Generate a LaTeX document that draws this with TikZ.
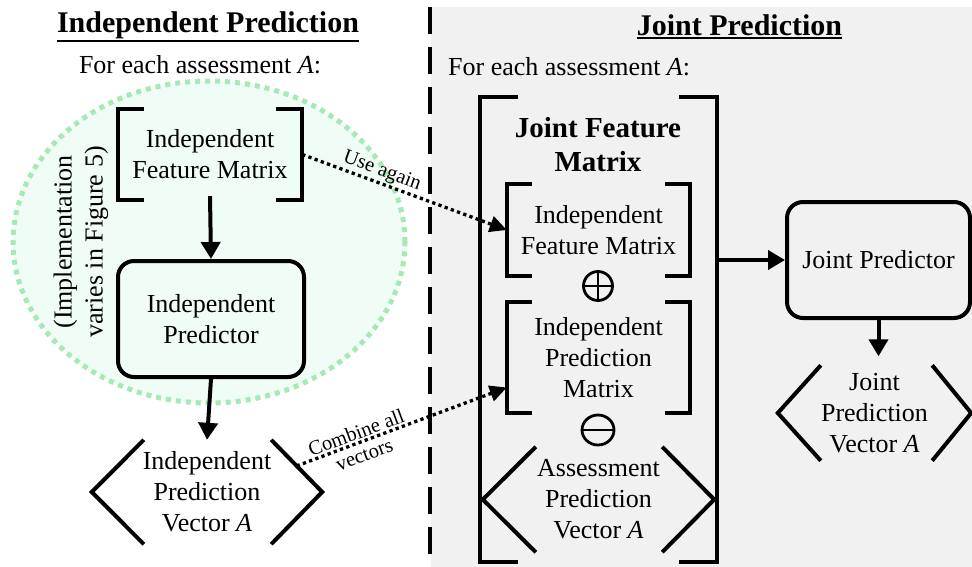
\documentclass[tikz,border=0pt]{standalone}
\usepackage{fontspec}
\setmainfont{Liberation Serif}
\usetikzlibrary{arrows.meta,calc,shapes.geometric}
\definecolor{bggray}{HTML}{F1F1F1}
\definecolor{lightgreen}{HTML}{F0FDF6}
\definecolor{dotgreen}{HTML}{A6E9B4}
\newcommand\bodyfs{\fontsize{26pt}{31pt}\selectfont}
\newcommand\titlefs{\fontsize{30pt}{34pt}\selectfont\bfseries}
\newcommand\jfmfs{\fontsize{29pt}{34pt}\selectfont\bfseries}
\newcommand\smallfs{\fontsize{20.5pt}{22pt}\selectfont}
\begin{document}
\begin{tikzpicture}[x=1pt,y=-1pt,
  txt/.style={font=\bodyfs,align=center,inner sep=0pt},
  box/.style={txt,draw,line width=4pt,rounded corners=16pt},
  brline/.style={line width=4pt},
  arr/.style={line width=4pt,-{Triangle[width=19pt,length=17pt]}},
  dotarr/.style={line width=3.3pt,dash pattern=on 3.3pt off 3.3pt,-{Triangle[width=16pt,length=17pt]}},
  lbl/.style={font=\smallfs,align=center,inner sep=1pt}]
\useasboundingbox (0,0) rectangle (972,567);
% right panel background and divider
\fill[bggray] (431,7) rectangle (972,567);
\draw[line width=3.7pt,dash pattern=on 27pt off 13pt] (430,7) -- (430,567);
% titles
\node[font=\titlefs,inner sep=0pt,anchor=base] (t1) at (208,33) {Independent Prediction};
\draw[line width=2.2pt] ([yshift=-1.5pt]t1.south west) -- ([yshift=-1.5pt]t1.south east);
\node[font=\titlefs,inner sep=0pt,anchor=base] (t2) at (739.5,36) {Joint Prediction};
\draw[line width=2.2pt] ([yshift=-1.5pt]t2.south west) -- ([yshift=-1.5pt]t2.south east);
\node[txt] (fe1) at (200,65) {For each assessment \textit{A}:};
\node[txt,anchor=west] (fe2) at (448,67) {For each assessment \textit{A}:};
% implementation ellipse
\node[draw=dotgreen,fill=lightgreen,ellipse,line width=5pt,dash pattern=on 5pt off 5pt,
      minimum width=392pt,minimum height=322pt,inner sep=0pt] (impl) at (209,242) {};
\node[txt,rotate=90] (impllabel) at (81,242) {(Implementation\\varies in Figure 5)};
% independent feature matrix
\node[txt,minimum width=184pt,minimum height=91pt] (ifm) at (210,154.5) {Independent\\Feature Matrix};
\draw[brline] ([xshift=26pt]ifm.north west) -| (ifm.south west) -- ++(26pt,0);
\draw[brline] ([xshift=-26pt]ifm.north east) -| (ifm.south east) -- ++(-26pt,0);
% independent predictor
\node[box,fill=lightgreen,minimum width=186pt,minimum height=116pt] (ip) at (211,319) {Independent\\Predictor};
% independent prediction vector
\node[txt,minimum width=230pt,minimum height=104pt] (iv) at (207,492) {Independent\\Prediction\\Vector \textit{A}};
\draw[brline] ([xshift=52pt]iv.north west) -- (iv.west) -- ([xshift=52pt]iv.south west);
\draw[brline] ([xshift=-51pt]iv.north east) -- (iv.east) -- ([xshift=-51pt]iv.south east);
\draw[arr] ([yshift=4pt]ifm.south) -- (ip.north);
\draw[arr] (ip.south) -- (iv.north);
% joint feature matrix
\node[inner sep=0pt,minimum width=237pt,minimum height=465pt] (jfm) at (598.5,329.5) {};
\draw[brline] ([xshift=38pt]jfm.north west) -| (jfm.south west) -- ++(38pt,0);
\draw[brline] ([xshift=-38pt]jfm.north east) -| (jfm.south east) -- ++(-38pt,0);
\node[font=\jfmfs,align=center,inner sep=0pt] (jfmt) at (598,145) {Joint Feature\\Matrix};
\node[txt,minimum width=183pt,minimum height=92pt] (ifm2) at (598.5,230) {Independent\\Feature Matrix};
\draw[brline] ([xshift=25pt]ifm2.north west) -| (ifm2.south west) -- ++(25pt,0);
\draw[brline] ([xshift=-25pt]ifm2.north east) -| (ifm2.south east) -- ++(-25pt,0);
\node[circle,draw,line width=2.8pt,minimum size=29pt,inner sep=0pt] (oplus) at (598,286) {};
\draw[line width=2.8pt] (oplus.north) -- (oplus.south) (oplus.west) -- (oplus.east);
\node[txt,minimum width=183pt,minimum height=111pt] (ipm) at (598.5,357.5) {Independent\\Prediction\\Matrix};
\draw[brline] ([xshift=25pt]ipm.north west) -| (ipm.south west) -- ++(25pt,0);
\draw[brline] ([xshift=-25pt]ipm.north east) -| (ipm.south east) -- ++(-25pt,0);
\node[ellipse,draw,line width=2.8pt,minimum width=32pt,minimum height=30pt,inner sep=0pt] (ominus) at (598,430) {};
\draw[line width=2.8pt] (ominus.west) -- (ominus.east);
\node[txt,minimum width=231pt,minimum height=105pt] (av) at (598.5,499.5) {Assessment\\Prediction\\Vector \textit{A}};
\draw[brline] ([xshift=53pt]av.north west) -- (av.west) -- ([xshift=53pt]av.south west);
\draw[brline] ([xshift=-52pt]av.north east) -- (av.east) -- ([xshift=-52pt]av.south east);
% joint predictor
\node[box,minimum width=183pt,minimum height=116pt] (jp) at (878.5,260) {Joint Predictor};
\node[txt,minimum width=193pt,minimum height=95pt] (jv) at (874.5,413) {Joint\\Prediction\\Vector \textit{A}};
\draw[brline] ([xshift=43pt]jv.north west) -- (jv.west) -- ([xshift=43pt]jv.south west);
\draw[brline] ([xshift=-39pt]jv.north east) -- (jv.east) -- ([xshift=-39pt]jv.south east);
\coordinate (jvtip) at ([yshift=9pt]jv.north);
\draw[arr] (jfm.east |- jp.west) -- (jp.west);
\draw[arr] (jp.south) -- (jp.south |- jvtip);
% dotted connectors
\draw[dotarr] (ifm.east) -- node[lbl,sloped,above,pos=0.37] (ua) {Use again} (ifm2.west);
\coordinate (cstart) at ($(iv.east)!0.5!([xshift=-51pt]iv.north east)$);
\coordinate (cend) at ([yshift=-30pt]ipm.west);
\draw[dotarr] (cstart) -- node[lbl,sloped,pos=0.3,yshift=-1pt,font=\fontsize{20.5pt}{23pt}\selectfont] (ca) {Combine all\\vectors} (cend);
\end{tikzpicture}
\end{document}
